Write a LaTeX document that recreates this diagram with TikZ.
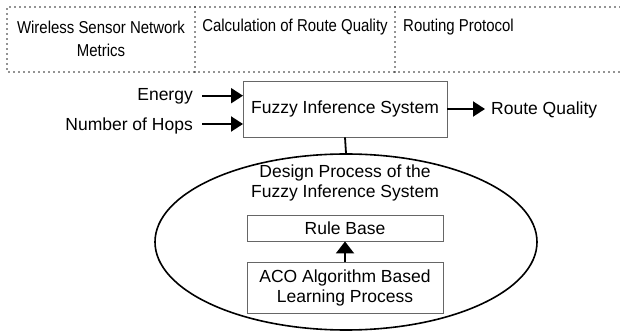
\documentclass[tikz,border=0pt]{standalone}
\usepackage{fontspec}
\setmainfont{Liberation Sans}
\newfontfamily\narrowsans[FakeStretch=0.87]{Liberation Sans}
\usetikzlibrary{arrows.meta,shapes.geometric}
\begin{document}
\begin{tikzpicture}[x=1pt,y=-1pt,
  every node/.style={font=\fontsize{17.5}{20}\selectfont, inner sep=0pt},
  head/.style={font=\narrowsans\fontsize{17.2}{23}\selectfont},
  frame/.style={line width=1.7pt, dash pattern=on 0pt off 5pt, line cap=round, black!85},
  box/.style={draw=black!60, line width=0.9pt},
  flow/.style={line width=2pt, -{Triangle[length=12pt,width=15pt]}}]
\useasboundingbox (0,0) rectangle (620,336);

% dotted header strip (open on the right)
\draw[frame] (620,7) -- (7,7) -- (7,72) -- (620,72);
\draw[frame] (195,7) -- (195,72);
\draw[frame] (395,7) -- (395,72);
\node[head, align=center] (wsn) at (101,38.5) {Wireless Sensor Network\\Metrics};
\node[head] (calc) at (295,27) {Calculation of Route Quality};
\node[head, anchor=west] (rp) at (403,27) {Routing Protocol};

% fuzzy inference system and its inputs/output
\node[box, minimum width=204pt, minimum height=56pt] (fis) at (345,109) {Fuzzy Inference System};
\node[anchor=east] (energy) at (193,96) {Energy};
\node[anchor=east] (hops) at (193,126) {Number of Hops};
\coordinate (inE) at (243,95.7);
\coordinate (inH) at (243,124);
\draw[flow] (202,95.7) -- (inE);
\draw[flow] (202,124) -- (inH);
\node[anchor=west] (rq) at (491,110) {Route Quality};
\draw[flow] (fis.east |- 0,109) -- (485,109);

% design process
\node[draw, ellipse, line width=1.6pt, minimum width=382pt, minimum height=176pt] (dp) at (346,242) {};
\draw[line width=1.8pt] (fis.south) -- (dp.north);
\node[align=center] (dpt) at (345,183) {Design Process of the\\Fuzzy Inference System};
\node[box, minimum width=196pt, minimum height=26pt] (rb) at (345,228) {Rule Base};
\node[box, minimum width=196pt, minimum height=51pt, align=center] (aco) at (345,288)
  {ACO Algorithm Based\\Learning Process};
\draw[flow, -{Triangle[length=12pt,width=18pt]}] (aco.north) -- (rb.south);
\end{tikzpicture}
\end{document}
